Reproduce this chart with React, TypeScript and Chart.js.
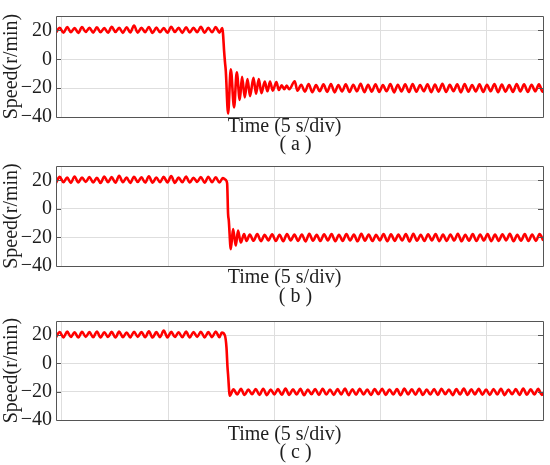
import React, { useEffect, useRef } from "react";
import { Chart, registerables } from "chart.js";

Chart.register(...registerables);

// ---------- axes ----------
const X_MIN = -0.28;
const X_MAX = 22.66;
const X_GRID = [0, 5, 10, 15, 20];
const Y_MIN = -40;
const Y_MAX = 30;
const Y_TICKS = [-40, -20, 0, 20];
const Y_TITLE = "Speed(r/min)";
const X_TITLE = "Time (5 s/div)";
const CAPTIONS = ["( a )", "( b )", "( c )"];

// ---------- sampling of the recorded signal ----------
const PRE_START = -0.28; // s
const RIPPLE_DT = 0.175; // s between samples of the steady ripple

// ---------- panel (a) ----------
const A_PRE = [
  18.6, 21.9, 18.4, 22.3, 18.8, 21.7, 18.3, 22.4, 18.9, 21.8,
  18.5, 22.1, 18.7, 21.6, 18.4, 22.5, 18.9, 21.9, 18.3, 22.2,
  18.6, 23.3, 18.5, 21.8, 18.8, 22.4, 18.2, 22.0, 18.7, 21.7,
  18.4, 22.6, 18.9, 21.9, 18.3, 22.2, 18.6, 21.8, 18.8, 22.5,
  18.4, 21.9, 18.7, 22.3, 18.5,
];
const A_TR_T = [
  7.553, 7.586, 7.638, 7.68, 7.718, 7.826, 7.953, 8.108, 8.235, 8.376,
  8.485, 8.612, 8.739, 8.861, 9.021, 9.144, 9.271, 9.398, 9.553, 9.68,
  9.802, 9.929, 10.104, 10.212, 10.353, 10.47, 10.588, 10.706, 10.965, 11.092,
];
const A_TR_V = [
  21.6, 18.0, 5.8, -2.0, -8.0, -37.6, -6.9, -33.4, -9.0, -28.1,
  -12.2, -26.4, -13.7, -25.5, -12.8, -23.9, -13.7, -23.5, -15.4, -22.2,
  -15.4, -21.7, -15.8, -21.3, -18.0, -20.7, -18.2, -20.8, -15.2, -21.7,
];
const A_POST_START = 11.27;
const A_POST = [
  -17.6, -22.4, -17.2, -22.8, -17.9, -22.1, -17.4, -22.6, -17.1, -22.9,
  -17.8, -22.3, -17.3, -22.7, -17.6, -22.2, -17.0, -22.8, -17.7, -22.4,
  -17.3, -22.6, -17.9, -22.1, -17.2, -22.9, -17.6, -22.3, -17.4, -22.7,
  -17.1, -22.5, -17.8, -22.2, -17.3, -22.8, -17.5, -22.4, -17.0, -22.6,
  -17.7, -22.1, -17.4, -22.9, -17.2, -22.5, -17.8, -22.3, -17.3, -22.7,
  -17.6, -22.2, -17.1, -22.8, -17.5, -22.4, -17.9, -22.6, -17.2, -22.3,
  -17.4, -22.7, -17.6, -22.2, -17.3, -22.5, -17.5,
];

// ---------- panel (b) ----------
const B_PRE = [
  18.3, 22.4, 18.6, 21.9, 18.2, 22.7, 18.5, 22.0, 18.8, 22.3,
  18.4, 21.8, 18.1, 22.6, 18.7, 22.2, 18.3, 23.1, 18.6, 21.9,
  18.2, 22.5, 18.8, 22.1, 18.4, 22.8, 18.3, 21.9, 18.7, 22.4,
  18.5, 22.9, 18.2, 22.0, 18.6, 22.6, 18.4, 21.8, 18.9, 22.3,
  18.3, 22.5, 18.6, 22.1, 18.4,
];
const B_TR_T = [7.576, 7.694, 7.78, 7.826, 7.859, 7.953, 8.061, 8.188, 8.296, 8.424, 8.579, 8.692];
const B_TR_V = [21.6, 20.5, 18.0, -3.6, -8.0, -28.2, -14.1, -25.7, -15.2, -23.6, -17.7, -22.5];
const B_POST_START = 8.85;
const B_POST = [
  -18.0, -22.3, -17.7, -22.6, -18.2, -22.1, -17.8, -22.5, -18.1, -22.7,
  -17.6, -22.2, -18.0, -22.4, -17.9, -22.8, -17.5, -22.3, -18.2, -22.5,
  -17.8, -22.1, -17.6, -22.6, -18.1, -22.4, -17.7, -22.2, -18.0, -22.7,
  -17.5, -22.3, -17.9, -22.5, -18.2, -22.1, -17.6, -22.6, -17.8, -22.4,
  -18.0, -22.2, -17.7, -22.8, -17.5, -22.3, -18.1, -22.5, -17.8, -22.1,
  -17.6, -22.6, -18.0, -22.4, -17.9, -22.2, -17.4, -22.7, -18.1, -22.3,
  -17.7, -22.5, -17.9, -22.2, -17.6, -22.6, -18.0, -22.4, -17.8, -22.1,
  -17.5, -22.7, -18.1, -22.3, -17.7, -22.5, -17.9, -22.4, -17.6, -22.2,
];

// ---------- panel (c) ----------
const C_PRE = [
  18.6, 22.2, 18.4, 22.5, 18.7, 22.0, 18.3, 22.4, 18.8, 22.1,
  18.5, 22.6, 18.4, 22.0, 18.7, 22.3, 18.3, 22.5, 18.6, 21.9,
  18.4, 22.4, 18.8, 22.2, 18.5, 22.7, 18.3, 22.1, 18.6, 23.2,
  18.4, 22.3, 18.7, 22.0, 18.5, 22.5, 18.3, 22.2, 18.8, 22.4,
  18.4, 22.1, 18.6, 22.6, 18.5,
];
const C_TR_T = [7.529, 7.671, 7.75, 7.798, 7.826, 7.906];
const C_TR_V = [21.8, 20.0, 11.4, -2.5, -8.0, -22.9];
const C_POST_START = 8.08;
const C_POST = [
  -18.3, -22.0, -18.0, -22.3, -18.5, -21.8, -18.1, -22.2, -17.9, -22.4,
  -18.4, -21.9, -18.2, -22.1, -17.8, -22.3, -18.3, -22.0, -18.0, -22.5,
  -18.5, -21.8, -18.1, -22.2, -17.9, -22.0, -18.4, -22.3, -18.2, -21.9,
  -17.8, -22.4, -18.3, -22.1, -18.0, -22.0, -18.5, -22.3, -18.1, -21.8,
  -17.9, -22.2, -18.4, -22.0, -18.2, -22.4, -17.8, -21.9, -18.3, -22.1,
  -18.0, -22.3, -18.5, -22.0, -18.1, -22.2, -17.9, -21.8, -18.4, -22.4,
  -18.2, -22.0, -17.8, -22.3, -18.3, -21.9, -18.0, -22.1, -18.5, -22.2,
  -18.1, -22.0, -17.9, -22.4, -18.4, -21.8, -18.2, -22.3, -17.8, -22.1,
  -18.3, -22.0, -18.0, -22.2, -18.2,
];

type Pt = { x: number; y: number };

function uniform(start: number, dt: number, values: number[]): Pt[] {
  return values.map((v, i) => ({ x: start + i * dt, y: v }));
}
function paired(ts: number[], vs: number[]): Pt[] {
  return ts.map((t, i) => ({ x: t, y: vs[i] }));
}

const SIGNALS: Pt[][] = [
  [...uniform(PRE_START, RIPPLE_DT, A_PRE), ...paired(A_TR_T, A_TR_V), ...uniform(A_POST_START, RIPPLE_DT, A_POST)],
  [...uniform(PRE_START, RIPPLE_DT, B_PRE), ...paired(B_TR_T, B_TR_V), ...uniform(B_POST_START, RIPPLE_DT, B_POST)],
  [...uniform(PRE_START, RIPPLE_DT, C_PRE), ...paired(C_TR_T, C_TR_V), ...uniform(C_POST_START, RIPPLE_DT, C_POST)],
];

// ---------- layout / style ----------
// canvases are transparent, so they may overlap
const LAYOUT = [
  { top: 0, height: 160, plotTop: 7, plotBottom: 117, timeDy: 10, capDy: 28 },
  { top: 150, height: 160, plotTop: 155, plotBottom: 266, timeDy: 12, capDy: 31 },
  { top: 305, height: 160, plotTop: 311, plotBottom: 420, timeDy: 15, capDy: 33 },
];
const FONT_FAMILY = "'Liberation Serif', 'DejaVu Serif', serif";
const FONT_SIZE = 20;
const TEXT_COLOR = "#1e1e1e";
const GRID_COLOR = "#dedede";
const FRAME_COLOR = "#555555";
const LINE_COLOR = "#ff0000";

function Panel({ index }: { index: number }) {
  const ref = useRef<HTMLCanvasElement | null>(null);
  const lay = LAYOUT[index];
  const padTop = lay.plotTop - lay.top;
  const axisH = lay.height - (lay.plotBottom - lay.top);

  useEffect(() => {
    if (!ref.current) return;
    const framePlugin = {
      id: "frame" + index,
      afterDraw(chart: any) {
        const { ctx, chartArea } = chart;
        const { left, right, top, bottom } = chartArea;
        const ys = chart.scales.y;
        ctx.save();
        ctx.strokeStyle = FRAME_COLOR;
        ctx.lineWidth = 1;
        ctx.beginPath();
        ctx.rect(Math.round(left) + 0.5, Math.round(top) + 0.5, Math.round(right - left), Math.round(bottom - top));
        ctx.stroke();
        ctx.beginPath();
        Y_TICKS.forEach((v) => {
          if (v === Y_MIN) return;
          const y = Math.round(ys.getPixelForValue(v)) + 0.5;
          ctx.moveTo(left, y);
          ctx.lineTo(left + 5, y);
          ctx.moveTo(right - 5, y);
          ctx.lineTo(right, y);
        });
        ctx.stroke();
        ctx.fillStyle = TEXT_COLOR;
        ctx.font = `${FONT_SIZE}px ${FONT_FAMILY}`;
        ctx.textAlign = "center";
        ctx.textBaseline = "middle";
        const cx = (left + right) / 2;
        ctx.fillText(X_TITLE, cx - 15, bottom + lay.timeDy);
        ctx.fillText(CAPTIONS[index], cx - 4, bottom + lay.capDy);
        ctx.restore();
      },
    };

    const chart = new Chart(ref.current, {
      type: "line",
      data: {
        datasets: [
          {
            data: SIGNALS[index],
            borderColor: LINE_COLOR,
            borderWidth: 2.6,
            pointRadius: 0,
            fill: false,
            cubicInterpolationMode: "monotone",
          },
        ],
      },
      options: {
        responsive: false,
        animation: false,
        events: [],
        layout: { padding: { top: padTop, right: 7, left: 0, bottom: 0 } },
        plugins: { legend: { display: false }, tooltip: { enabled: false } },
        scales: {
          x: {
            type: "linear",
            min: X_MIN,
            max: X_MAX,
            afterBuildTicks: (s: any) => {
              s.ticks = X_GRID.map((v) => ({ value: v }));
            },
            afterFit: (s: any) => {
              s.height = axisH;
            },
            ticks: { display: false },
            grid: { color: GRID_COLOR, drawTicks: false, lineWidth: 1 },
            border: { display: false },
          },
          y: {
            type: "linear",
            min: Y_MIN,
            max: Y_MAX,
            afterBuildTicks: (s: any) => {
              s.ticks = Y_TICKS.map((v) => ({ value: v }));
            },
            afterFit: (s: any) => {
              s.width = 56;
            },
            ticks: {
              padding: 4,
              color: TEXT_COLOR,
              font: { family: FONT_FAMILY, size: FONT_SIZE },
              callback: (v: any) => String(v).replace("-", "\u2212"),
            },
            grid: { color: GRID_COLOR, drawTicks: false, lineWidth: 1 },
            border: { display: false },
            title: {
              display: true,
              text: Y_TITLE,
              color: TEXT_COLOR,
              font: { family: FONT_FAMILY, size: FONT_SIZE },
              padding: 0,
            },
          },
        },
      },
      plugins: [framePlugin],
    } as any);
    return () => chart.destroy();
  }, [index]);

  return (
    <canvas
      ref={ref}
      width={550}
      height={lay.height}
      style={{ position: "absolute", left: 0, top: lay.top, width: 550, height: lay.height }}
    />
  );
}

export default function App() {
  return (
    <div style={{ position: "absolute", left: 0, top: 0, width: 550, height: 465, background: "#ffffff" }}>
      {LAYOUT.map((_, i) => (
        <Panel key={i} index={i} />
      ))}
    </div>
  );
}
